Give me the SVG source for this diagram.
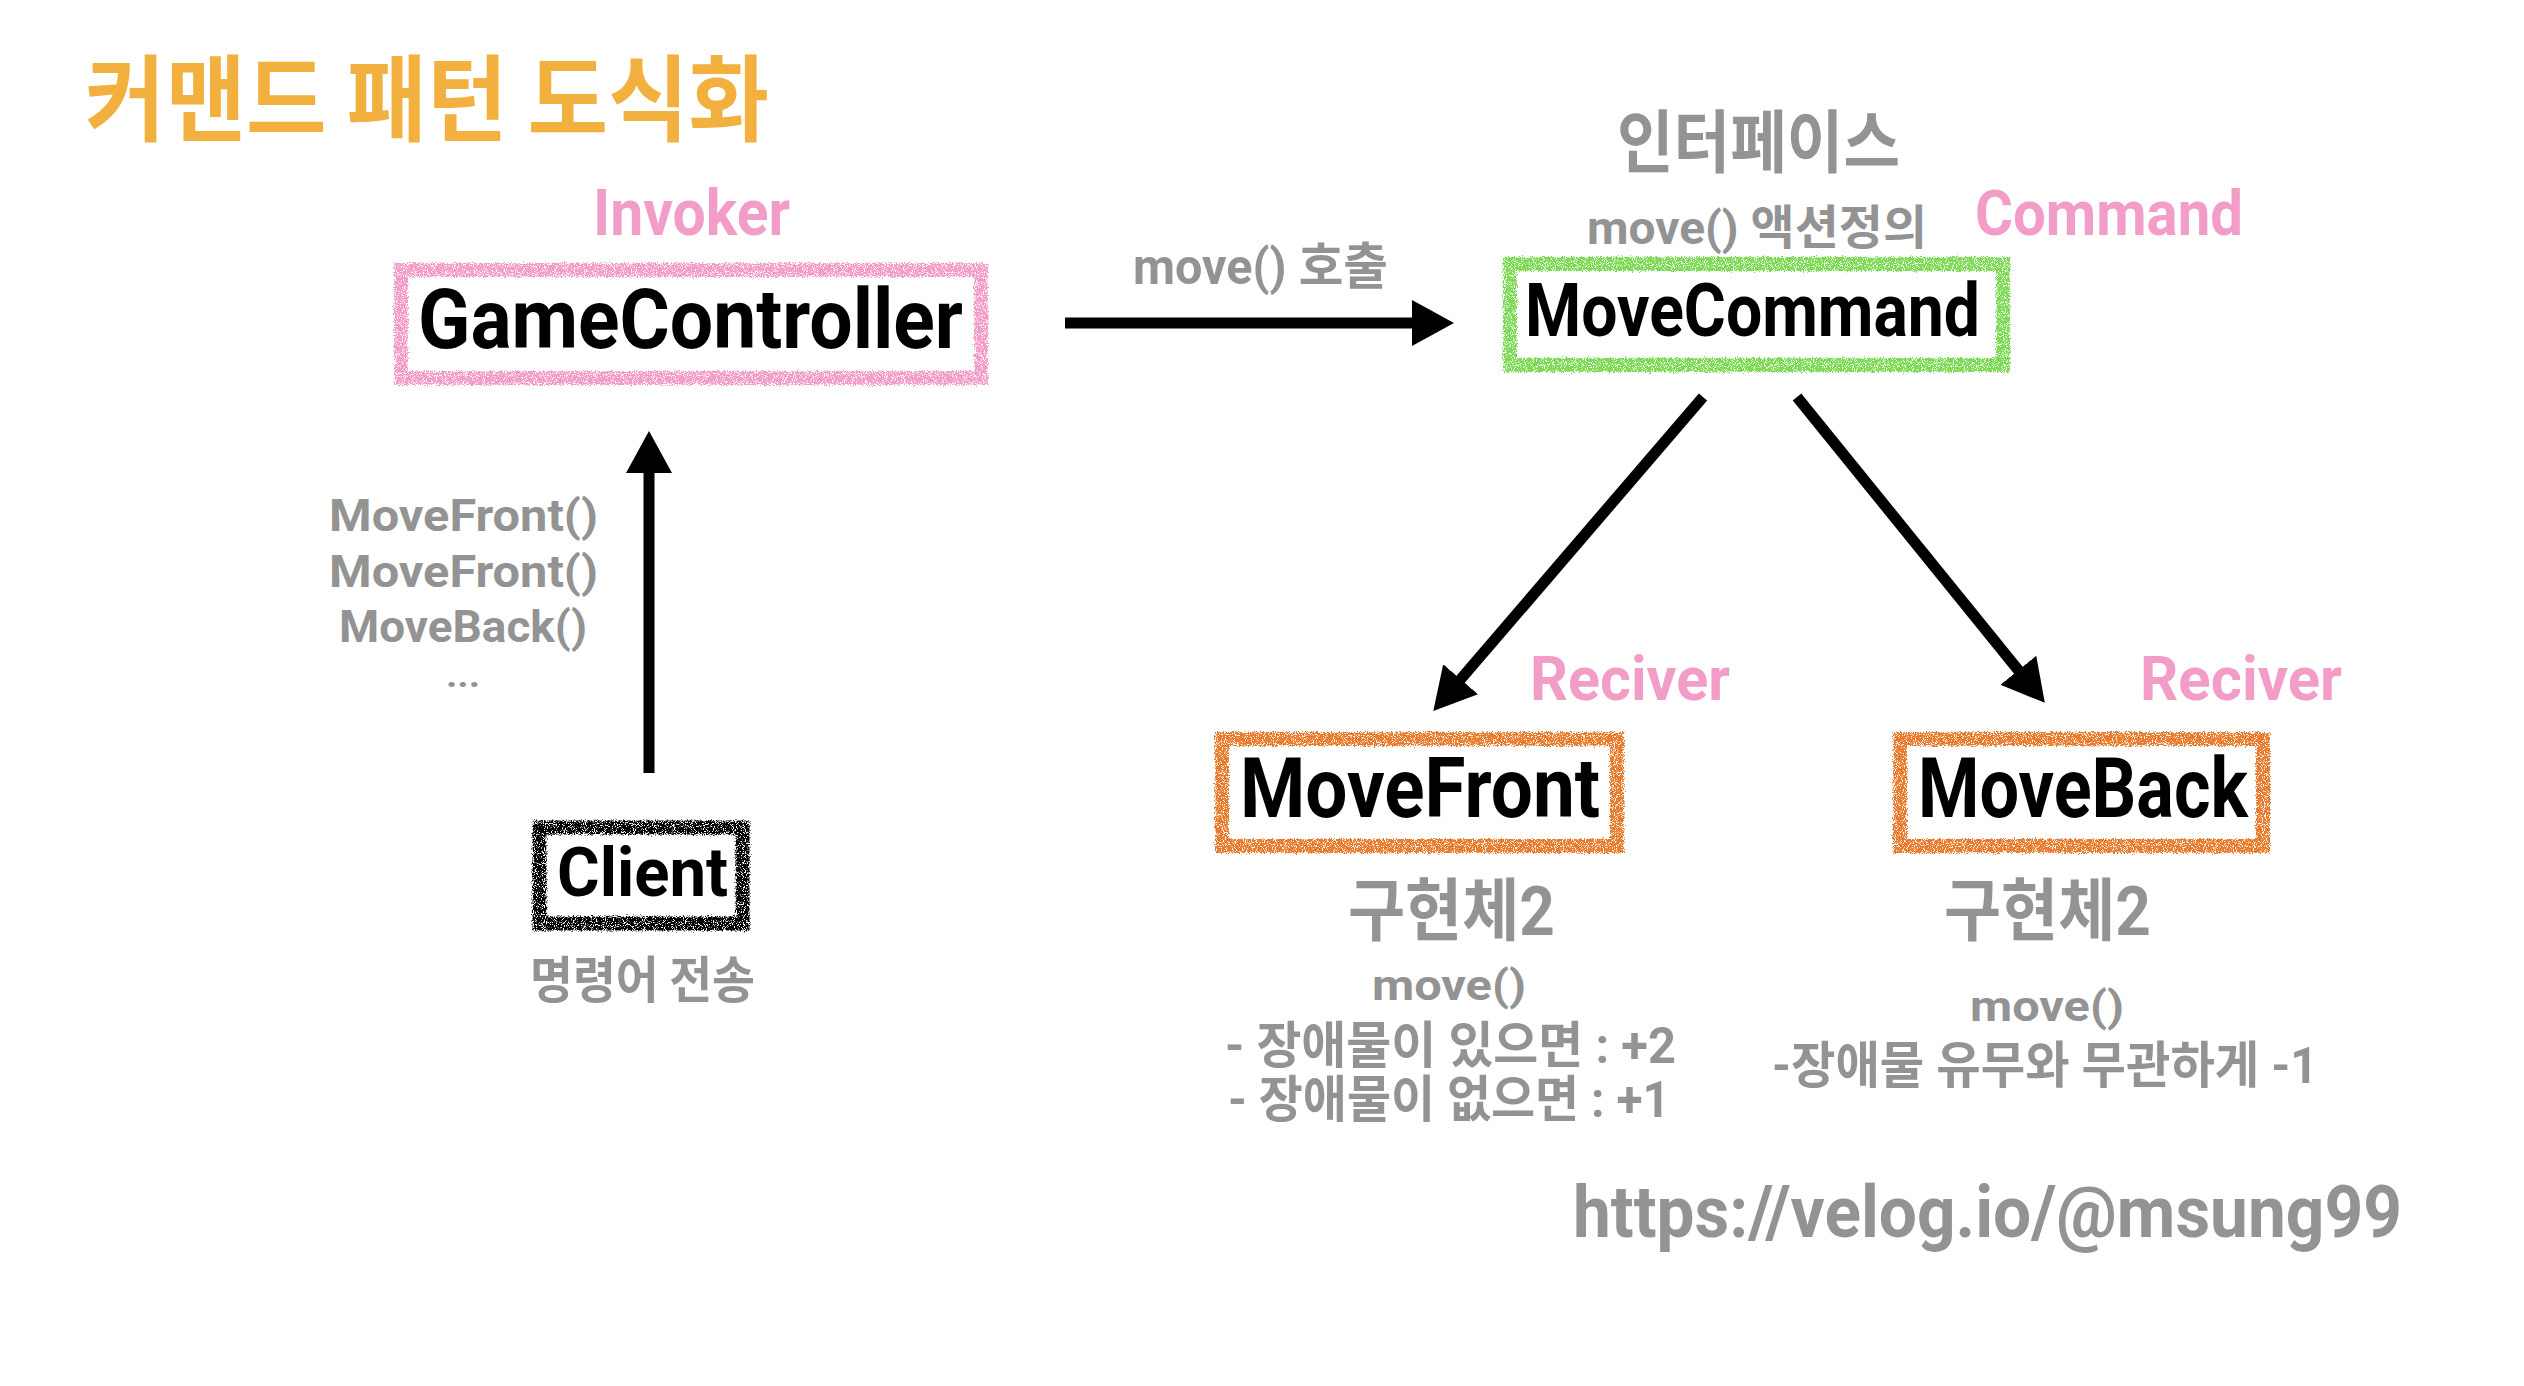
<svg xmlns="http://www.w3.org/2000/svg" width="2524" height="1386" viewBox="0 0 2524 1386">
<style>
  .t { font-family: Roboto, "Noto Sans CJK KR", "Liberation Sans", sans-serif; font-weight: 700; }
  .k { font-family: "Noto Sans CJK KR", Roboto, sans-serif; font-weight: 700; }
  .gray { fill: #939393; }
  .pink { fill: #F29CC8; }
  .black { fill: #000000; }
  .box { fill: #ffffff; stroke-width: 14; filter: url(#crayon); }
  .conn { stroke: #000000; stroke-width: 11; fill: none; marker-end: url(#head); }
</style>
<defs>
  <filter id="crayon" x="-5%" y="-12%" width="110%" height="124%">
    <feTurbulence type="fractalNoise" baseFrequency="0.9" numOctaves="2" seed="3" result="noise"/>
    <feDisplacementMap in="SourceGraphic" in2="noise" scale="6" xChannelSelector="R" yChannelSelector="G" result="disp"/>
    <feTurbulence type="fractalNoise" baseFrequency="1.1" numOctaves="1" seed="9" result="n2"/>
    <feColorMatrix in="n2" type="matrix" values="0 0 0 0 0  0 0 0 0 0  0 0 0 0 0  0 0 0 -10 6.4" result="holes"/>
    <feComposite in="disp" in2="holes" operator="in"/>
  </filter>
  <marker id="head" viewBox="0 0 42 46" refX="1" refY="23" markerWidth="42" markerHeight="46" markerUnits="userSpaceOnUse" orient="auto">
    <path d="M0,0 L42,23 L0,46 Z" fill="#000000"/>
  </marker>
</defs>
<rect x="0" y="0" width="2524" height="1386" fill="#ffffff"/>

<text class="k" x="85" y="134" font-size="94" textLength="684" lengthAdjust="spacingAndGlyphs" fill="#F2B13F">커맨드 패턴 도식화</text>

<g id="connectors">
  <line class="conn" x1="1065" y1="323" x2="1413" y2="323"/>
  <line class="conn" x1="649" y1="773" x2="649" y2="472"/>
  <line class="conn" x1="1703" y1="397" x2="1460" y2="680"/>
  <line class="conn" x1="1797" y1="397" x2="2019" y2="671"/>
</g>

<g id="edge-labels">
  <text class="t gray" x="1133" y="284" font-size="50" textLength="255" lengthAdjust="spacingAndGlyphs">move() 호출</text>
  <text class="t gray" x="329" y="531" font-size="44" textLength="269" lengthAdjust="spacingAndGlyphs">MoveFront()</text>
  <text class="t gray" x="329" y="587" font-size="44" textLength="269" lengthAdjust="spacingAndGlyphs">MoveFront()</text>
  <text class="t gray" x="339" y="642" font-size="44" textLength="248" lengthAdjust="spacingAndGlyphs">MoveBack()</text>
  <text class="t gray" x="446" y="687" font-size="34" textLength="34" lengthAdjust="spacingAndGlyphs">...</text>
</g>

<g id="node-gamecontroller">
  <text class="t pink" x="593" y="235" font-size="64" textLength="197" lengthAdjust="spacingAndGlyphs">Invoker</text>
  <rect class="box" x="401" y="270" width="580" height="108" stroke="#F29CC8"/>
  <text class="t black" x="418" y="348" font-size="84" textLength="545" lengthAdjust="spacingAndGlyphs">GameController</text>
</g>

<g id="node-movecommand">
  <text class="k gray" x="1617" y="167" font-size="68" textLength="283" lengthAdjust="spacingAndGlyphs">인터페이스</text>
  <text class="t gray" x="1587" y="244" font-size="47" textLength="340" lengthAdjust="spacingAndGlyphs">move() 액션정의</text>
  <text class="t pink" x="1975" y="235" font-size="63" textLength="268" lengthAdjust="spacingAndGlyphs">Command</text>
  <rect class="box" x="1510" y="264" width="493" height="101" stroke="#7ED957"/>
  <text class="t black" x="1525" y="336" font-size="74" textLength="455" lengthAdjust="spacingAndGlyphs">MoveCommand</text>
</g>

<g id="node-client">
  <rect class="box" x="539.5" y="827.5" width="203" height="96" stroke="#000000"/>
  <text class="t black" x="557" y="896" font-size="69" textLength="171" lengthAdjust="spacingAndGlyphs">Client</text>
  <text class="k gray" x="530" y="998" font-size="50" textLength="225" lengthAdjust="spacingAndGlyphs">명령어 전송</text>
</g>

<g id="node-movefront">
  <text class="t pink" x="1530" y="700" font-size="62" textLength="200" lengthAdjust="spacingAndGlyphs">Reciver</text>
  <rect class="box" x="1222" y="739" width="395" height="107" stroke="#E87B2F"/>
  <text class="t black" x="1240" y="817" font-size="83" textLength="360" lengthAdjust="spacingAndGlyphs">MoveFront</text>
  <text class="t gray" x="1348" y="935" font-size="68" textLength="207" lengthAdjust="spacingAndGlyphs">구현체2</text>
  <text class="t gray" x="1372" y="1000" font-size="42" textLength="154" lengthAdjust="spacingAndGlyphs">move()</text>
  <text class="t gray" x="1225" y="1063" font-size="50" textLength="451" lengthAdjust="spacingAndGlyphs">- 장애물이 있으면 : +2</text>
  <text class="t gray" x="1228" y="1117" font-size="50" textLength="442" lengthAdjust="spacingAndGlyphs">- 장애물이 없으면 : +1</text>
</g>

<g id="node-moveback">
  <text class="t pink" x="2140" y="700" font-size="62" textLength="202" lengthAdjust="spacingAndGlyphs">Reciver</text>
  <rect class="box" x="1900" y="739" width="363" height="107" stroke="#E87B2F"/>
  <text class="t black" x="1918" y="817" font-size="83" textLength="330" lengthAdjust="spacingAndGlyphs">MoveBack</text>
  <text class="t gray" x="1944" y="935" font-size="68" textLength="207" lengthAdjust="spacingAndGlyphs">구현체2</text>
  <text class="t gray" x="1970" y="1021" font-size="42" textLength="154" lengthAdjust="spacingAndGlyphs">move()</text>
  <text class="t gray" x="1772" y="1083" font-size="50" textLength="546" lengthAdjust="spacingAndGlyphs">-장애물 유무와 무관하게 -1</text>
</g>

<text class="t gray" x="1573" y="1237" font-size="72" textLength="829" lengthAdjust="spacingAndGlyphs">https://velog.io/@msung99</text>
</svg>
